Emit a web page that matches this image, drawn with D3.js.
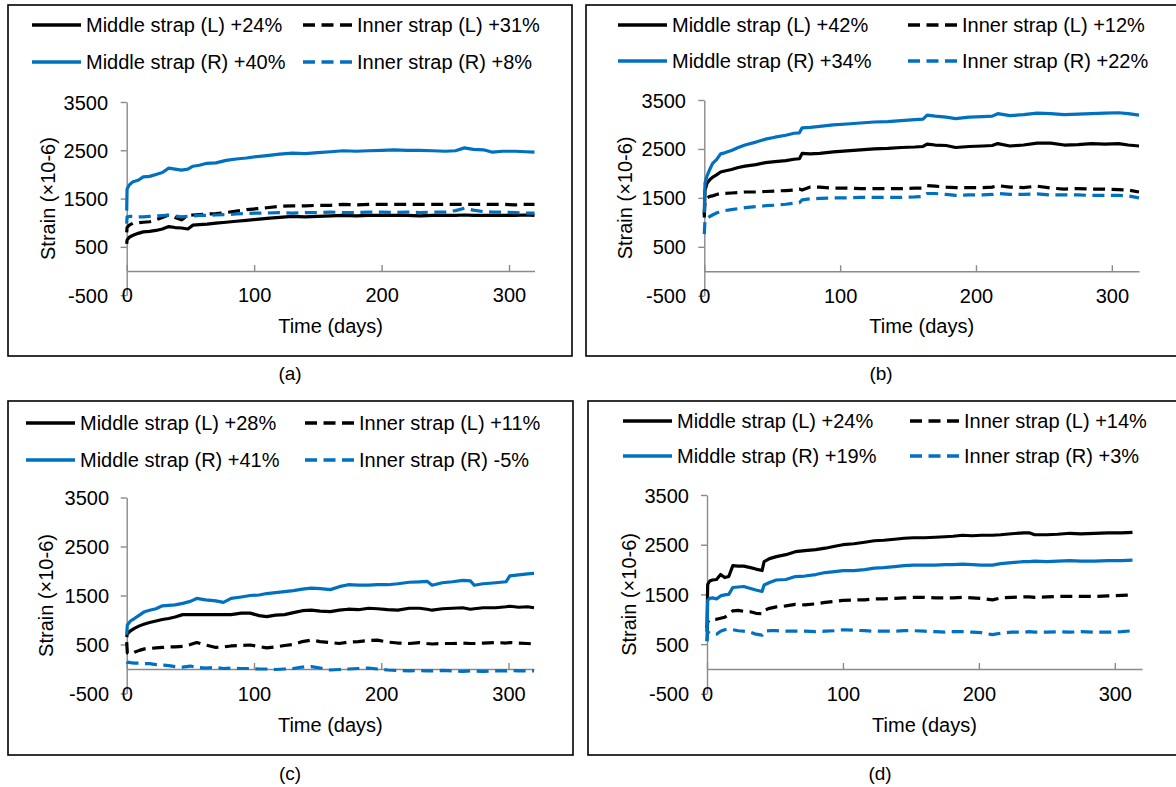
<!DOCTYPE html>
<html>
<head>
<meta charset="utf-8">
<script src="https://cdn.jsdelivr.net/npm/d3@7"></script>
<style>
  body { margin: 0; background: #fff; }
  svg { display: block; }
  text { font-family: "Liberation Sans", Arial, sans-serif; fill: #000; }
</style>
</head>
<body>
<script>
// ---- data ----
const LEGEND_A = ["Middle strap (L) +24%", "Inner strap (L) +31%", "Middle strap (R) +40%", "Inner strap (R) +8%"];
const LEGEND_B = ["Middle strap (L) +42%", "Inner strap (L) +12%", "Middle strap (R) +34%", "Inner strap (R) +22%"];
const LEGEND_C = ["Middle strap (L) +28%", "Inner strap (L) +11%", "Middle strap (R) +41%", "Inner strap (R) -5%"];
const LEGEND_D = ["Middle strap (L) +24%", "Inner strap (L) +14%", "Middle strap (R) +19%", "Inner strap (R) +3%"];

const Y_TICKS = [3500, 2500, 1500, 500, -500];
const X_TICKS = [0, 100, 200, 300];

// panel (a)
const A_DAYS  = [0,0.3,2,5,9,13,18,23,28,33,38,43,48,52,57,63,70,78,86,94,102,110,120,130,140,150,160,170,180,190,200,210,220,230,240,250,258,265,272,280,287,295,305,313,320];
const A_MID_L = [560,640,700,740,780,810,820,840,870,920,900,890,870,950,960,970,990,1010,1030,1050,1070,1090,1110,1130,1120,1130,1140,1150,1140,1150,1150,1150,1150,1140,1150,1150,1150,1160,1150,1150,1150,1150,1150,1160,1150];
const A_INN_L = [800,900,950,990,1000,1010,1020,1060,1110,1160,1110,1060,1150,1160,1170,1180,1190,1210,1240,1270,1290,1310,1340,1350,1350,1360,1360,1380,1370,1380,1380,1380,1380,1380,1380,1380,1380,1380,1380,1380,1380,1380,1370,1380,1380];
const A_MID_R = [1250,1700,1780,1850,1880,1950,1960,2000,2040,2130,2110,2090,2110,2170,2190,2230,2240,2290,2320,2340,2370,2390,2420,2440,2430,2450,2470,2490,2480,2490,2500,2510,2500,2500,2490,2480,2490,2550,2520,2510,2460,2480,2480,2470,2460];
const A_INN_R = [980,1120,1130,1130,1120,1120,1130,1140,1150,1160,1140,1120,1130,1140,1150,1150,1160,1170,1180,1190,1200,1200,1210,1200,1210,1210,1220,1210,1210,1220,1220,1210,1220,1210,1220,1220,1250,1300,1260,1230,1220,1220,1210,1200,1200];

// panel (b)
const B_DAYS  = [0,0.5,2,4,6,9,12,15,20,25,30,38,45,52,60,66,70,72,78,85,95,105,115,125,135,145,155,161,164,170,178,185,195,205,212,216,225,235,245,255,265,275,285,295,305,312,320];
const B_MID_L = [1100,1650,1800,1870,1920,1970,2030,2050,2080,2120,2150,2180,2220,2240,2260,2290,2300,2410,2400,2410,2440,2460,2480,2500,2510,2530,2540,2550,2600,2580,2570,2530,2550,2560,2570,2610,2560,2580,2620,2620,2580,2590,2610,2600,2610,2580,2560];
const B_INN_L = [1150,1450,1500,1530,1540,1570,1590,1590,1600,1610,1620,1620,1630,1640,1650,1660,1680,1660,1720,1720,1700,1700,1690,1690,1690,1690,1700,1700,1750,1740,1720,1710,1710,1710,1720,1750,1720,1710,1740,1700,1680,1690,1680,1680,1670,1660,1620];
const B_MID_R = [1200,1800,1950,2080,2200,2280,2400,2420,2470,2530,2580,2640,2700,2740,2780,2820,2830,2930,2940,2960,2990,3010,3030,3050,3060,3080,3100,3110,3190,3170,3150,3120,3150,3160,3170,3220,3180,3200,3230,3220,3200,3210,3220,3230,3240,3220,3190];
const B_INN_R = [760,1050,1080,1120,1150,1190,1220,1240,1260,1280,1300,1320,1340,1350,1370,1390,1400,1460,1480,1490,1500,1500,1510,1510,1510,1510,1520,1530,1590,1590,1570,1550,1560,1560,1570,1590,1570,1570,1580,1560,1560,1560,1550,1550,1550,1540,1500];

// panel (c)
const C_DAYS  = [0,0.5,3,6,10,14,18,23,28,33,38,44,50,55,62,70,76,82,90,97,104,110,117,124,131,138,145,152,160,167,174,182,190,197,205,213,222,230,236,240,248,256,264,270,273,280,290,298,301,308,315,320];
const C_MID_L = [650,720,780,830,880,920,950,980,1010,1030,1060,1110,1110,1110,1110,1110,1110,1110,1140,1140,1090,1070,1100,1110,1150,1190,1200,1180,1170,1200,1220,1210,1240,1230,1210,1200,1240,1240,1220,1200,1230,1240,1250,1220,1230,1250,1250,1270,1280,1260,1270,1250];
const C_INN_L = [550,330,300,340,380,410,420,430,440,450,450,460,500,540,490,440,450,470,480,490,460,430,450,480,500,560,590,560,540,520,550,560,580,590,550,530,520,540,520,510,520,520,530,520,520,530,540,530,540,530,520,510];
const C_MID_R = [700,900,980,1030,1100,1170,1200,1230,1290,1300,1310,1340,1380,1440,1410,1390,1360,1440,1470,1500,1510,1540,1560,1580,1600,1630,1650,1640,1620,1680,1720,1710,1710,1720,1720,1740,1770,1780,1790,1710,1760,1780,1810,1800,1710,1740,1760,1780,1900,1920,1940,1950];
const C_INN_R = [150,140,130,120,120,110,110,90,80,70,50,40,60,30,20,30,10,20,10,10,0,0,-10,0,10,40,50,20,-20,-10,0,10,20,0,-20,-30,-40,-30,-40,-40,-30,-40,-50,-40,-40,-50,-40,-40,-30,-40,-40,-40];

// panel (d)
const D_DAYS  = [0,0.5,2,4,7,10,13,16,19,23,27,32,36,40.5,42,46,51,58,65,72,80,87,94,100,108,116,123,130,138,145,152,160,168,175,181,188,195,202,210,216,224,233,237,241,250,258,267,275,285,295,305,313];
const D_MID_L = [820,1700,1770,1790,1800,1900,1840,1860,2080,2070,2070,2040,2010,1980,2160,2220,2260,2300,2360,2380,2400,2430,2470,2500,2520,2550,2580,2590,2610,2630,2640,2640,2650,2660,2670,2690,2680,2690,2690,2700,2720,2740,2740,2700,2700,2710,2730,2720,2730,2740,2740,2750];
const D_INN_L = [750,950,990,1010,1000,1020,1040,1100,1170,1180,1160,1150,1120,1110,1180,1220,1250,1270,1300,1290,1310,1340,1360,1380,1390,1390,1410,1410,1420,1430,1440,1440,1430,1430,1430,1440,1430,1420,1390,1430,1440,1450,1450,1440,1450,1460,1460,1460,1460,1470,1480,1490];
const D_MID_R = [560,1380,1420,1430,1410,1470,1490,1500,1640,1650,1660,1620,1590,1560,1690,1740,1790,1800,1860,1870,1900,1940,1960,1980,1980,2000,2030,2040,2060,2080,2090,2090,2090,2100,2100,2110,2100,2090,2090,2120,2140,2160,2160,2170,2160,2170,2180,2170,2170,2180,2180,2190];
const D_INN_R = [560,750,720,690,700,760,790,800,790,770,760,740,700,680,760,770,770,760,760,760,750,760,770,790,780,770,760,760,760,770,770,760,750,740,750,750,740,730,690,720,740,740,750,740,740,750,740,750,740,740,750,770];

// ---- layout ----
const W = 1176, H = 787;
const FONT = 20;
const STYLES = [
  { color: "#000000", dash: null },
  { color: "#000000", dash: "12,6.5" },
  { color: "#0070c0", dash: null },
  { color: "#0070c0", dash: "12,6.5" }
];

const panels = [
  { tag: "(a)", box: [8, 5, 572, 356], days: A_DAYS, series: [A_MID_L, A_INN_L, A_MID_R, A_INN_R], legend: LEGEND_A,
    x0: 126.7, x1: 534.5, yTop: 102, yZero: 271, legRows: [25, 62], legCols: [32, 303], labRight: 108, yTitleX: 48, xTitleY: 326, capX: 290, capY: 373 },
  { tag: "(b)", box: [586, 5, 1185, 356], days: B_DAYS, series: [B_MID_L, B_INN_L, B_MID_R, B_INN_R], legend: LEGEND_B,
    x0: 704.3, x1: 1139, yTop: 100, yZero: 271.3, legRows: [25, 61], legCols: [618, 908], labRight: 686, yTitleX: 625, xTitleY: 326, capX: 881, capY: 373 },
  { tag: "(c)", box: [8, 401, 573, 755], days: C_DAYS, series: [C_MID_L, C_INN_L, C_MID_R, C_INN_R], legend: LEGEND_C,
    x0: 126.7, x1: 534, yTop: 497.5, yZero: 669, legRows: [423, 460], legCols: [26, 305], labRight: 109, yTitleX: 46, xTitleY: 725, capX: 290, capY: 773 },
  { tag: "(d)", box: [588, 401, 1185, 755], days: D_DAYS, series: [D_MID_L, D_INN_L, D_MID_R, D_INN_R], legend: LEGEND_D,
    x0: 707, x1: 1142, yTop: 495, yZero: 669, legRows: [421, 456], legCols: [623, 910], labRight: 689, yTitleX: 629, xTitleY: 725, capX: 880, capY: 773 }
];

const svg = d3.select("body").append("svg")
  .attr("width", W)
  .attr("height", H)
  .attr("xmlns", "http://www.w3.org/2000/svg");

svg.append("rect").attr("width", W).attr("height", H).attr("fill", "#fff");

const drawPanel = (p) => {
  const g = svg.append("g");
  const [bx0, by0, bx1, by1] = p.box;

  g.append("rect")
    .attr("x", bx0).attr("y", by0)
    .attr("width", bx1 - bx0).attr("height", by1 - by0)
    .attr("fill", "none").attr("stroke", "#000").attr("stroke-width", 1.6);

  // value -> pixel; 3500 at yTop, 0 at yZero
  const per = (p.yZero - p.yTop) / 3500;
  const y = d3.scaleLinear().domain([-500, 3500]).range([p.yZero + 500 * per, p.yTop]);
  const x = d3.scaleLinear().domain([0, 320]).range([p.x0, p.x1]);

  // y axis
  const yAxis = g.append("g")
    .attr("transform", `translate(${p.x0},0)`)
    .call(d3.axisLeft(y).tickValues(Y_TICKS).tickSizeInner(6).tickSizeOuter(0).tickFormat(d => String(d)));
  yAxis.selectAll("text")
    .attr("x", p.labRight - p.x0).attr("dy", "0.35em")
    .attr("font-size", FONT).attr("fill", "#000")
    .style("font-family", '"Liberation Sans", Arial, sans-serif');

  // x axis sits on zero, labels at bottom
  const xAxis = g.append("g")
    .attr("transform", `translate(0,${y(0)})`)
    .call(d3.axisBottom(x).tickValues(X_TICKS).tickSizeInner(-6).tickSizeOuter(0).tickFormat(d => String(d)));
  xAxis.selectAll("text")
    .attr("y", y(-500) - y(0)).attr("dy", "0.35em")
    .attr("font-size", FONT).attr("fill", "#000")
    .style("font-family", '"Liberation Sans", Arial, sans-serif');

  g.selectAll(".domain, .tick line").attr("stroke", "#8a8a8a").attr("stroke-width", 1.4);

  // titles
  g.append("text")
    .attr("transform", `translate(${p.yTitleX},${(y(-500) + y(3500)) / 2}) rotate(-90)`)
    .attr("text-anchor", "middle").attr("dy", "0.35em")
    .attr("font-size", FONT)
    .text("Strain (\u00d710-6)");

  g.append("text")
    .attr("x", (p.x0 + p.x1) / 2).attr("y", p.xTitleY)
    .attr("text-anchor", "middle").attr("dy", "0.35em")
    .attr("font-size", FONT)
    .text("Time (days)");

  svg.append("text")
    .attr("x", p.capX).attr("y", p.capY)
    .attr("text-anchor", "middle").attr("dy", "0.35em")
    .attr("font-size", 19)
    .text(p.tag);

  // lines
  const line = d3.line()
    .x((d, i) => x(p.days[i]))
    .y(d => y(d));

  const order = [0, 1, 3, 2];
  for (const k of order) {
    g.append("path")
      .datum(p.series[k])
      .attr("d", line)
      .attr("fill", "none")
      .attr("stroke", STYLES[k].color)
      .attr("stroke-width", 3.2)
      .attr("stroke-linejoin", "round")
      .attr("stroke-dasharray", STYLES[k].dash);
  }

  // legend
  p.legend.forEach((label, k) => {
    const row = Math.floor(k / 2), col = k % 2;
    const lx = p.legCols[col], ly = p.legRows[row];
    g.append("line")
      .attr("x1", lx).attr("x2", lx + 49)
      .attr("y1", ly).attr("y2", ly)
      .attr("stroke", STYLES[k].color)
      .attr("stroke-width", 3.5)
      .attr("stroke-dasharray", STYLES[k].dash);
    g.append("text")
      .attr("x", lx + 54).attr("y", ly)
      .attr("dy", "0.35em")
      .attr("font-size", FONT)
      .text(label);
  });
};

panels.forEach(drawPanel);
</script>
</body>
</html>
